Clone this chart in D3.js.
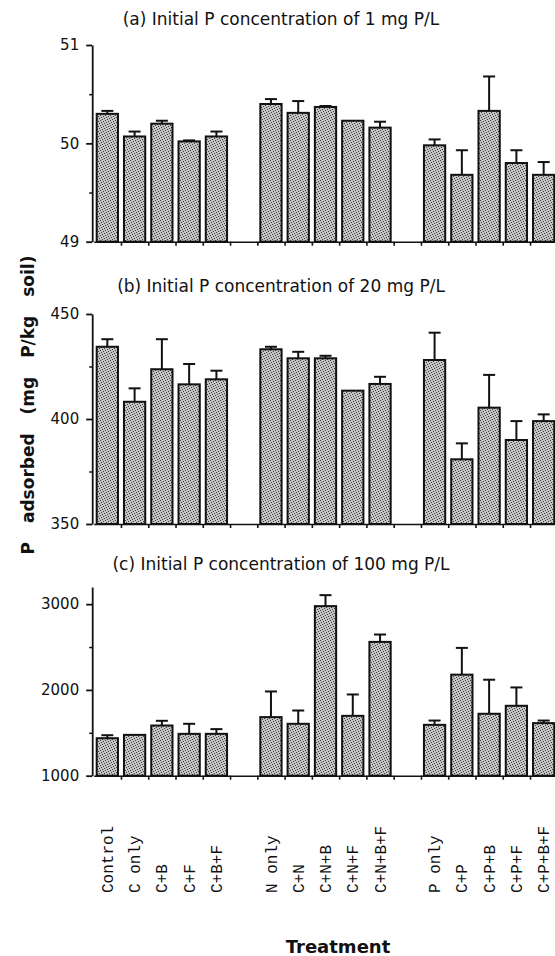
<!DOCTYPE html>
<html>
<head>
<meta charset="utf-8">
<script src="https://cdn.jsdelivr.net/npm/d3@7/dist/d3.min.js"></script>
<style>
  body { margin: 0; background: #fff; }
  svg { display: block; }
</style>
</head>
<body>
<div id="chart"></div>
<script>
// Treatments: three groups of five, with an empty slot between groups
const slots = ['Control', 'C only', 'C+B', 'C+F', 'C+B+F', 'gap1',
  'N only', 'C+N', 'C+N+B', 'C+N+F', 'C+N+B+F', 'gap2',
  'P only', 'C+P', 'C+P+B', 'C+P+F', 'C+P+B+F'];
const treatments = slots.filter(s => !s.startsWith('gap'));

// (a) 1 mg P/L
const meansA = [50.30, 50.07, 50.20, 50.02, 50.07, 50.40, 50.31, 50.37, 50.23, 50.16, 49.98, 49.68, 50.33, 49.80, 49.68];
const errA = [0.03, 0.05, 0.03, 0.01, 0.05, 0.05, 0.12, 0.01, 0, 0.06, 0.06, 0.25, 0.35, 0.13, 0.13];
// (b) 20 mg P/L
const meansB = [434.4, 408.2, 423.7, 416.5, 418.9, 433.2, 428.9, 428.9, 413.5, 416.7, 428.1, 380.8, 405.4, 390.0, 399.0];
const errB = [3.6, 6.4, 14.3, 9.7, 4.1, 1.2, 3.1, 1.2, 0, 3.4, 13.0, 7.6, 15.6, 9.0, 3.2];
// (c) 100 mg P/L
const meansC = [1437, 1476, 1585, 1488, 1488, 1683, 1605, 2977, 1698, 2560, 1593, 2178, 1722, 1815, 1613];
const errC = [35, 0, 55, 117, 55, 299, 155, 128, 249, 86, 50, 312, 397, 214, 30];

const panels = [
  { title: '(a) Initial P concentration of 1 mg P/L', means: meansA, errs: errA,
    domain: [49, 51], ticks: [49, 50, 51], minor: [49.5, 50.5], top: 45, bottom: 241.7, titleY: 25 },
  { title: '(b) Initial P concentration of 20 mg P/L', means: meansB, errs: errB,
    domain: [350, 450], ticks: [350, 400, 450], minor: [375, 425], top: 314, bottom: 524, titleY: 292 },
  { title: '(c) Initial P concentration of 100 mg P/L', means: meansC, errs: errC,
    domain: [1000, 3200], ticks: [1000, 2000, 3000], minor: [1500, 2500], top: 587, bottom: 775.7, titleY: 570 }
];

const width = 555, height = 956;
const left = 93.7, right = 557.3;
const sans = 'DejaVu Sans, sans-serif';

const svg = d3.select('#chart').append('svg')
  .attr('width', width)
  .attr('height', height);

svg.append('rect').attr('width', width).attr('height', height).attr('fill', '#fff');

// stippled fill, like the printed halftone
const pat = svg.append('defs').append('pattern')
  .attr('id', 'stipple')
  .attr('patternUnits', 'userSpaceOnUse')
  .attr('width', 5).attr('height', 5);
pat.append('rect').attr('width', 5).attr('height', 5).attr('fill', '#c4c4c4');
[[0, 0], [3, 1], [1, 2], [4, 3], [2, 4]].forEach(([px, py]) => {
  pat.append('rect').attr('x', px).attr('y', py).attr('width', 1).attr('height', 1).attr('fill', '#3c3c3c');
});

const x = d3.scaleBand()
  .domain(slots)
  .range([left, right])
  .paddingInner(0.22)
  .paddingOuter(0.11);

const xEdge = d3.scaleLinear().domain([0, slots.length]).range([left, right]);

panels.forEach(p => {
  const y = d3.scaleLinear().domain(p.domain).range([p.bottom, p.top]);
  const g = svg.append('g');

  g.append('text')
    .attr('x', 281)
    .attr('y', p.titleY)
    .attr('text-anchor', 'middle')
    .attr('font-family', sans)
    .attr('font-size', '17px')
    .attr('fill', '#111')
    .text(p.title);

  // bars
  treatments.forEach((t, i) => {
    g.append('rect')
      .attr('x', x(t))
      .attr('y', y(p.means[i]))
      .attr('width', x.bandwidth())
      .attr('height', y(p.domain[0]) - y(p.means[i]))
      .attr('fill', 'url(#stipple)')
      .attr('stroke', '#111')
      .attr('stroke-width', 2);
  });

  // error bars (upper only)
  treatments.forEach((t, i) => {
    if (!p.errs[i]) return;
    const cx = x(t) + x.bandwidth() / 2;
    const y0 = y(p.means[i]);
    const y1 = y(p.means[i] + p.errs[i]);
    g.append('line')
      .attr('x1', cx).attr('x2', cx).attr('y1', y0).attr('y2', y1)
      .attr('stroke', '#111').attr('stroke-width', 2);
    g.append('line')
      .attr('x1', cx - 6).attr('x2', cx + 6).attr('y1', y1).attr('y2', y1)
      .attr('stroke', '#111').attr('stroke-width', 2);
  });

  // y axis
  const yAxis = g.append('g')
    .attr('transform', `translate(${left - 1.5},0)`)
    .call(d3.axisLeft(y).tickValues(p.ticks).tickSize(6).tickSizeOuter(0).tickPadding(7).tickFormat(d3.format('d')));
  yAxis.selectAll('text').attr('font-family', sans).attr('font-size', '15px').attr('fill', '#111');
  yAxis.selectAll('line, path').attr('stroke', '#111').attr('stroke-width', 1.8);

  const yMinor = g.append('g')
    .attr('transform', `translate(${left - 1.5},0)`)
    .call(d3.axisLeft(y).tickValues(p.minor).tickSize(3).tickFormat(''));
  yMinor.select('.domain').remove();
  yMinor.selectAll('line').attr('stroke', '#111').attr('stroke-width', 1.5);

  // x axis: ticks at slot boundaries
  const xAxis = g.append('g')
    .attr('transform', `translate(0,${p.bottom})`)
    .call(d3.axisBottom(xEdge).tickValues(d3.range(1, slots.length + 1)).tickSize(4).tickSizeOuter(0).tickFormat(''));
  xAxis.selectAll('line, path').attr('stroke', '#111').attr('stroke-width', 1.6);
});

// treatment labels
svg.append('g').selectAll('text')
  .data(treatments)
  .join('text')
  .attr('transform', d => `translate(${x(d) + x.bandwidth() / 2},893) rotate(-90)`)
  .attr('dy', '0.35em')
  .attr('text-anchor', 'start')
  .attr('font-family', 'Liberation Mono, Courier New, monospace')
  .attr('font-size', '16px')
  .attr('fill', '#111')
  .text(d => d);

svg.append('text')
  .attr('x', 338)
  .attr('y', 953)
  .attr('text-anchor', 'middle')
  .attr('font-family', sans)
  .attr('font-weight', 'bold')
  .attr('font-size', '18px')
  .attr('fill', '#111')
  .text('Treatment');

svg.append('text')
  .attr('transform', 'translate(34,405) rotate(-90)')
  .attr('text-anchor', 'middle')
  .attr('font-family', sans)
  .attr('font-weight', 'bold')
  .attr('font-size', '17px')
  .attr('word-spacing', '13px')
  .attr('fill', '#111')
  .text('P adsorbed (mg P/kg soil)');
</script>
</body>
</html>
